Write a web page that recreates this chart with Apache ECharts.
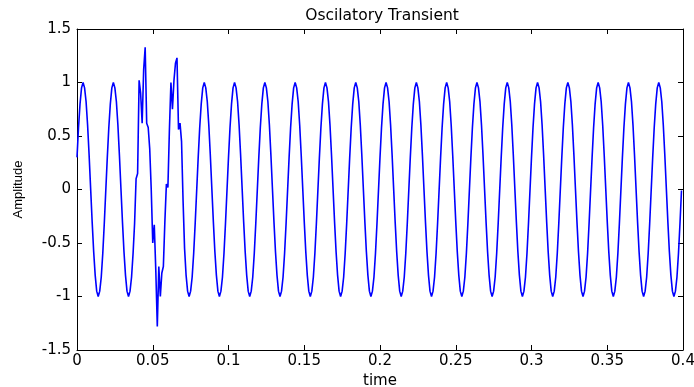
<!DOCTYPE html>
<html>
<head>
<meta charset="utf-8">
<script src="https://cdn.jsdelivr.net/npm/echarts@6/dist/echarts.min.js"></script>
<style>
  html, body { margin: 0; padding: 0; background: #fff; }
  #chart { width: 694px; height: 387px; }
</style>
</head>
<body>
<div id="chart"></div>
<script>
// Sampled 50 Hz signal with an oscillatory transient near t = 0.05 s.
const SAMPLE_STEP = 0.001; // seconds between samples

// One row per 20 ms cycle (20 samples each).
const amplitude = [
  0.30, 0.58, 0.80, 0.95, 1.00, 0.95, 0.82, 0.60, 0.32, 0.01, -0.30, -0.58, -0.80, -0.95, -1.00, -0.95, -0.82, -0.60, -0.32, -0.01,
  0.30, 0.58, 0.80, 0.95, 1.00, 0.95, 0.82, 0.60, 0.32, 0.01, -0.30, -0.58, -0.80, -0.95, -1.00, -0.95, -0.82, -0.60, -0.32, 0.10,
  0.15, 1.02, 0.90, 0.62, 1.12, 1.33, 0.62, 0.58, 0.38, 0.00, -0.50, -0.33, -0.75, -1.28, -0.72, -1.00, -0.78, -0.72, -0.30, 0.05,
  0.02, 0.56, 1.00, 0.75, 1.02, 1.18, 1.23, 0.56, 0.62, 0.45, -0.10, -0.55, -0.80, -0.95, -1.00, -0.95, -0.82, -0.60, -0.32, -0.01,
  0.30, 0.58, 0.80, 0.95, 1.00, 0.95, 0.82, 0.60, 0.32, 0.01, -0.30, -0.58, -0.80, -0.95, -1.00, -0.95, -0.82, -0.60, -0.32, -0.01,
  0.30, 0.58, 0.80, 0.95, 1.00, 0.95, 0.82, 0.60, 0.32, 0.01, -0.30, -0.58, -0.80, -0.95, -1.00, -0.95, -0.82, -0.60, -0.32, -0.01,
  0.30, 0.58, 0.80, 0.95, 1.00, 0.95, 0.82, 0.60, 0.32, 0.01, -0.30, -0.58, -0.80, -0.95, -1.00, -0.95, -0.82, -0.60, -0.32, -0.01,
  0.30, 0.58, 0.80, 0.95, 1.00, 0.95, 0.82, 0.60, 0.32, 0.01, -0.30, -0.58, -0.80, -0.95, -1.00, -0.95, -0.82, -0.60, -0.32, -0.01,
  0.30, 0.58, 0.80, 0.95, 1.00, 0.95, 0.82, 0.60, 0.32, 0.01, -0.30, -0.58, -0.80, -0.95, -1.00, -0.95, -0.82, -0.60, -0.32, -0.01,
  0.30, 0.58, 0.80, 0.95, 1.00, 0.95, 0.82, 0.60, 0.32, 0.01, -0.30, -0.58, -0.80, -0.95, -1.00, -0.95, -0.82, -0.60, -0.32, -0.01,
  0.30, 0.58, 0.80, 0.95, 1.00, 0.95, 0.82, 0.60, 0.32, 0.01, -0.30, -0.58, -0.80, -0.95, -1.00, -0.95, -0.82, -0.60, -0.32, -0.01,
  0.30, 0.58, 0.80, 0.95, 1.00, 0.95, 0.82, 0.60, 0.32, 0.01, -0.30, -0.58, -0.80, -0.95, -1.00, -0.95, -0.82, -0.60, -0.32, -0.01,
  0.30, 0.58, 0.80, 0.95, 1.00, 0.95, 0.82, 0.60, 0.32, 0.01, -0.30, -0.58, -0.80, -0.95, -1.00, -0.95, -0.82, -0.60, -0.32, -0.01,
  0.30, 0.58, 0.80, 0.95, 1.00, 0.95, 0.82, 0.60, 0.32, 0.01, -0.30, -0.58, -0.80, -0.95, -1.00, -0.95, -0.82, -0.60, -0.32, -0.01,
  0.30, 0.58, 0.80, 0.95, 1.00, 0.95, 0.82, 0.60, 0.32, 0.01, -0.30, -0.58, -0.80, -0.95, -1.00, -0.95, -0.82, -0.60, -0.32, -0.01,
  0.30, 0.58, 0.80, 0.95, 1.00, 0.95, 0.82, 0.60, 0.32, 0.01, -0.30, -0.58, -0.80, -0.95, -1.00, -0.95, -0.82, -0.60, -0.32, -0.01,
  0.30, 0.58, 0.80, 0.95, 1.00, 0.95, 0.82, 0.60, 0.32, 0.01, -0.30, -0.58, -0.80, -0.95, -1.00, -0.95, -0.82, -0.60, -0.32, -0.01,
  0.30, 0.58, 0.80, 0.95, 1.00, 0.95, 0.82, 0.60, 0.32, 0.01, -0.30, -0.58, -0.80, -0.95, -1.00, -0.95, -0.82, -0.60, -0.32, -0.01,
  0.30, 0.58, 0.80, 0.95, 1.00, 0.95, 0.82, 0.60, 0.32, 0.01, -0.30, -0.58, -0.80, -0.95, -1.00, -0.95, -0.82, -0.60, -0.32, -0.01,
  0.30, 0.58, 0.80, 0.95, 1.00, 0.95, 0.82, 0.60, 0.32, 0.01, -0.30, -0.58, -0.80, -0.95, -1.00, -0.95, -0.82, -0.60, -0.32, -0.01
];

const xTickLabels = ['0', '0.05', '0.1', '0.15', '0.2', '0.25', '0.3', '0.35', '0.4'];
const yTickLabels = ['-1.5', '-1', '-0.5', '0', '0.5', '1', '1.5'];

const TEXT_FONT = 'DejaVu Sans';
const X_MIN = 0, X_MAX = 0.4, X_INTERVAL = 0.05;
const Y_MIN = -1.5, Y_MAX = 1.5, Y_INTERVAL = 0.5;

const frameLine = { show: true, onZero: false, lineStyle: { color: '#000', width: 1 } };
const innerTicks = { show: true, inside: true, length: 5, lineStyle: { color: '#000', width: 1 } };

const chart = echarts.init(document.getElementById('chart'), null, { renderer: 'canvas' });
chart.setOption({
  animation: false,
  backgroundColor: '#fff',
  title: {
    text: 'Oscilatory Transient',
    left: 377,
    top: 3,
    textAlign: 'center',
    textStyle: { fontFamily: TEXT_FONT, fontSize: 15.5, fontWeight: 'normal', color: '#000' }
  },
  grid: { left: 77, right: 11, top: 29, bottom: 37, containLabel: false, outerBoundsMode: 'none' },
  xAxis: [
    {
      type: 'value', position: 'bottom', min: X_MIN, max: X_MAX, interval: X_INTERVAL,
      axisLine: frameLine, axisTick: innerTicks, splitLine: { show: false },
      axisLabel: {
        color: '#000', fontFamily: TEXT_FONT, fontSize: 15, margin: 4,
        formatter: (v, i) => xTickLabels[i]
      },
      name: 'time', nameLocation: 'middle', nameGap: 18,
      nameTextStyle: { color: '#000', fontFamily: TEXT_FONT, fontSize: 15 }
    },
    {
      type: 'value', position: 'top', min: X_MIN, max: X_MAX, interval: X_INTERVAL,
      axisLine: frameLine, axisTick: innerTicks, splitLine: { show: false },
      axisLabel: { show: false }
    }
  ],
  yAxis: [
    {
      type: 'value', position: 'left', min: Y_MIN, max: Y_MAX, interval: Y_INTERVAL,
      axisLine: frameLine, axisTick: innerTicks, splitLine: { show: false },
      axisLabel: {
        color: '#000', fontFamily: TEXT_FONT, fontSize: 15, margin: 6,
        formatter: (v, i) => yTickLabels[i]
      },
      name: 'Amplitude', nameLocation: 'middle', nameGap: 52,
      nameTextStyle: { color: '#000', fontFamily: 'Liberation Sans', fontSize: 13 }
    },
    {
      type: 'value', position: 'right', min: Y_MIN, max: Y_MAX, interval: Y_INTERVAL,
      axisLine: frameLine, axisTick: innerTicks, splitLine: { show: false },
      axisLabel: { show: false }
    }
  ],
  series: [
    {
      type: 'line',
      xAxisIndex: 0,
      yAxisIndex: 0,
      data: amplitude.map((a, i) => [i * SAMPLE_STEP, a]),
      showSymbol: false,
      symbol: 'none',
      lineStyle: { color: '#0000ff', width: 1.6 },
      clip: true
    }
  ]
});
</script>
</body>
</html>
